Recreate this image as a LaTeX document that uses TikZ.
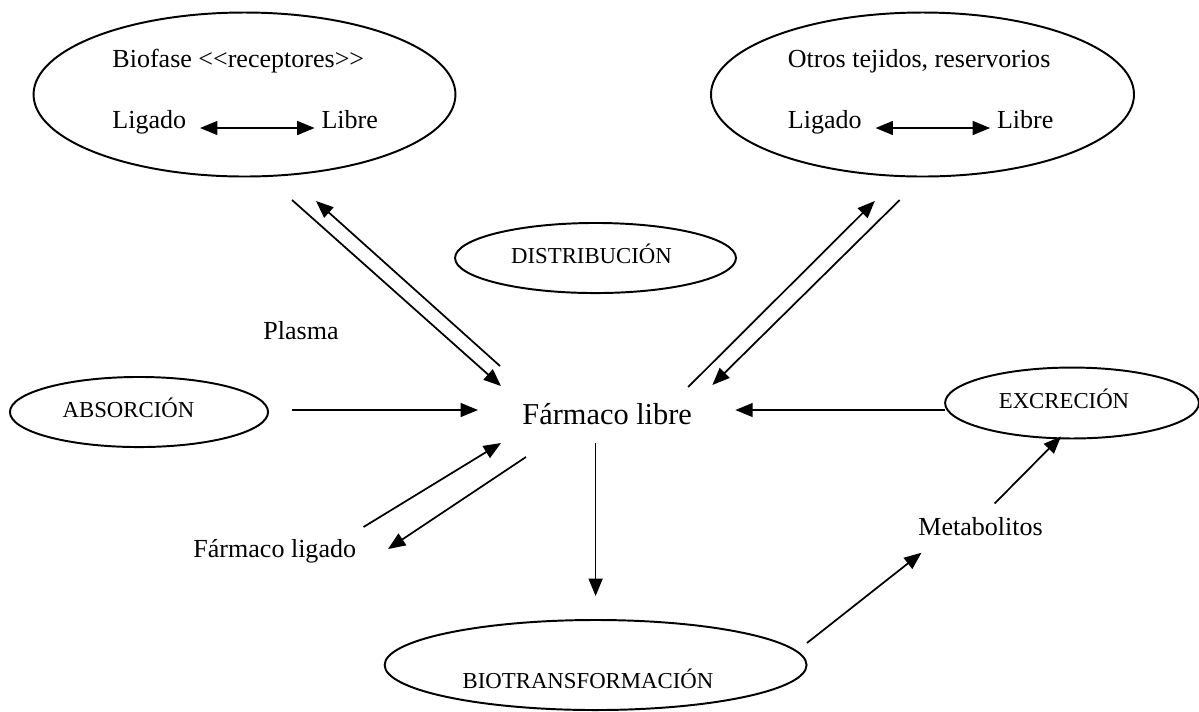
\documentclass[tikz,border=0pt]{standalone}
\usepackage{fontspec}
\setmainfont{Liberation Serif}
\usetikzlibrary{arrows.meta,positioning,shapes.geometric}

\begin{document}
\begin{tikzpicture}[x=0.461pt,y=-0.461pt,
>={Triangle[length=8pt,width=6.4pt]},
elli/.style={draw,ellipse,line width=0.9pt,inner sep=0pt},
txt/.style={inner sep=0pt,font=\fontsize{12}{14}\selectfont},
caps/.style={inner sep=0pt,anchor=base,font=\fontsize{10.5}{12}\selectfont},
arr/.style={->,line width=0.8pt}]
\useasboundingbox (0,0) rectangle (1199,711);
\node[elli,minimum width=194.5pt,minimum height=75.6pt] (bio) at (244.5,94.5) {};
\node[elli,minimum width=195pt,minimum height=75.6pt] (tej) at (922.5,94.5) {};
\node[elli,minimum width=129.5pt,minimum height=32.3pt] (dist) at (595.5,258) {};
\node[elli,minimum width=119pt,minimum height=32.3pt] (abs) at (139,412) {};
\node[elli,minimum width=117pt,minimum height=32.7pt] (exc) at (1072,403) {};
\node[elli,minimum width=194.5pt,minimum height=41.5pt] (biot) at (595.6,665) {};

\node[txt,anchor=base west] (bfase) at (112,67) {Biofase <\kern0pt<receptores>\kern0pt>};
\node[txt,anchor=base west] (lig1) at (112,128) {Ligado};
\node[txt,base right=62pt of lig1] (lib1) {Libre};
\node[txt,anchor=base west] (otros) at (787.5,67) {Otros tejidos, reservorios};
\node[txt,anchor=base west] (lig2) at (787.5,128) {Ligado};
\node[txt,base right=62pt of lig2] (lib2) {Libre};
\node[caps] (distt) at (591.5,263) {DISTRIBUCIÓN};
\node[txt,anchor=base west] (plasma) at (263,339) {Plasma};
\node[caps] (abst) at (128.5,417) {ABSORCIÓN};
\node[anchor=base west,inner sep=0pt,font=\fontsize{14}{17}\selectfont] (farm) at (522,424) {Fármaco libre};
\node[caps] (exct) at (1064,408) {EXCRECIÓN};
\node[txt,anchor=base west] (flig) at (193,557) {Fármaco ligado};
\node[txt,anchor=base west] (metab) at (918,535) {Metabolitos};
\node[caps] (biott) at (588,688) {BIOTRANSFORMACIÓN};

\draw[<->,line width=0.8pt,shorten <=6.2pt,shorten >=3pt] (lig1.base east) -- (lib1.base west);
\draw[<->,line width=0.8pt,shorten <=6.2pt,shorten >=3pt] (lig2.base east) -- (lib2.base west);
\draw[arr] ([shift={(47.5,22.5)}]bio.south) -- ([shift={(-21,-38)}]farm.base west);
\draw[arr] ([shift={(-22,-58)}]farm.base west) -- ([shift={(71.5,23.5)}]bio.south);
\draw[arr] ([shift={(-4.2,-37)}]farm.base east) -- ([shift={(-47.7,23.5)}]tej.south);
\draw[arr] ([shift={(-22.8,22.5)}]tej.south) -- ([shift={(20,-39)}]farm.base east);
\draw[arr] ([shift={(23,-2)}]abs.east) -- ([shift={(-44,-14)}]farm.base west);
\draw[arr] ([shift={(1,7)}]exc.west) -- ([shift={(43,-14)}]farm.base east);
\draw[arr] ([shift={(7,-30)}]flig.base east) -- ([shift={(-21,19)}]farm.base west);
\draw[arr] ([shift={(4,33)}]farm.base west) -- ([shift={(31.5,-8)}]flig.base east);
\draw[arr,shorten <=8.8pt,shorten >=10.6pt] (biot.north |- farm.base) -- (biot.north);
\draw[arr] ([shift={(-0.6,-22)}]biot.east) -- ([shift={(3.5,17)}]metab.south west);
\draw[arr] ([shift={(14,-13)}]metab.north) -- ([shift={(-11,-3)}]exc.south);
\end{tikzpicture}
\end{document}
